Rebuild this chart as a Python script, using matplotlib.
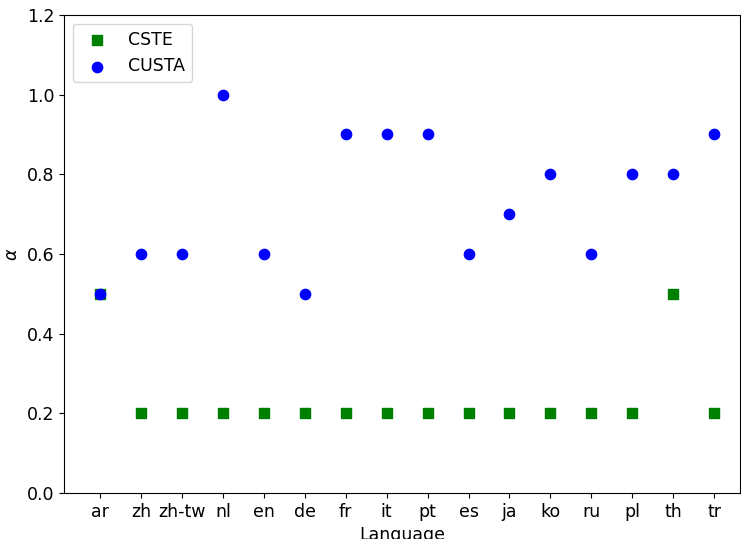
import matplotlib
matplotlib.use('Agg')
import matplotlib.pyplot as plt

languages = ['ar', 'zh', 'zh-tw', 'nl', 'en', 'de', 'fr', 'it', 'pt', 'es',
             'ja', 'ko', 'ru', 'pl', 'th', 'tr']
cste = [0.5, 0.2, 0.2, 0.2, 0.2, 0.2, 0.2, 0.2, 0.2, 0.2, 0.2, 0.2, 0.2, 0.2, 0.5, 0.2]
custa = [0.5, 0.6, 0.6, 1.0, 0.6, 0.5, 0.9, 0.9, 0.9, 0.6, 0.7, 0.8, 0.6, 0.8, 0.8, 0.9]

plt.rcParams['font.size'] = 12.5

fig = plt.figure(figsize=(7.41, 5.39), dpi=100)
ax = fig.add_axes([64 / 741, 46 / 539, 676 / 741, 478 / 539])

x = range(len(languages))
ax.scatter(x, cste, marker='s', color='green', s=50, label='CSTE', zorder=2)
ax.scatter(x, custa, marker='o', color='blue', s=55, label='CUSTA', zorder=3)

ax.set_xticks(list(x))
ax.set_xticklabels(languages)
ax.set_xlim(-0.88, 15.63)
ax.set_ylim(0, 1.2)
ax.set_xlabel('Language')
ax.set_ylabel(r'$\alpha$')
ax.legend(loc='upper left')

fig.savefig('out.png', dpi=100)
